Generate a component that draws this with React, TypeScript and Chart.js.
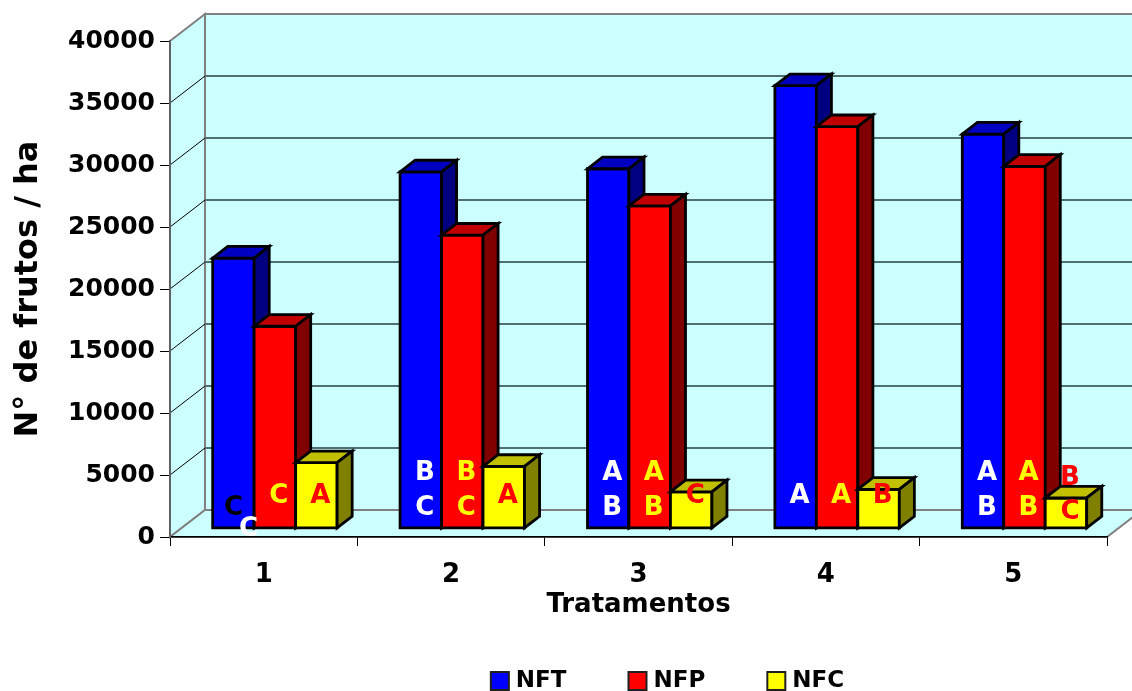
import React, { useEffect, useRef } from "react";
import { Chart, registerables } from "chart.js";

Chart.register(...registerables);

// ---------- data ----------
const categories = ["1", "2", "3", "4", "5"];
const seriesNames = ["NFT", "NFP", "NFC"];
const nftValues = [21800, 28750, 29000, 35700, 31800];
const nfpValues = [16300, 23650, 26000, 32400, 29200];
const nfcValues = [5300, 5000, 2950, 3150, 2450];
const yMin = 0;
const yMax = 40000;
const yStep = 5000;
const xTitle = "Tratamentos";
const yTitle = "N° de frutos / ha";

// significance letters per series, per category
const nftLetters = [["C"], ["B", "C"], ["A", "B"], ["A"], ["A", "B"]];
const nfpLetters = [["C"], ["B", "C"], ["A", "B"], ["A"], ["A", "B"]];
const nfcLetters = [["A"], ["A"], ["C"], ["B"], ["B", "C"]];

// ---------- styles ----------
const FONT = '"DejaVu Sans", "Liberation Sans", Arial, sans-serif';
const frontColors = ["#0000FF", "#FF0000", "#FFFF00"];
const topColors = ["#0000C0", "#C00000", "#C0C000"];
const sideColors = ["#000080", "#800000", "#808000"];
const letterColors = ["#FFFFFF", "#FFFF00", "#FF0000"];
const WALL = "#CCFFFF";
const WALL_EDGE = "#808080";
const GRID = "#507070";

const DEPTH_X = 35;
const DEPTH_Y = 27;
const BAR_START = 0.32;
const BAR_DEPTH = 0.43;

const allLetters = [nftLetters, nfpLetters, nfcLetters];

const threeDPlugin = {
  id: "threeD",
  beforeDraw(chart: any) {
    const { ctx, chartArea: a, scales } = chart;
    const ys = scales.y;
    const L = a.left, R = a.right, T = a.top, B = a.bottom;
    ctx.save();
    ctx.fillStyle = WALL;
    ctx.strokeStyle = WALL_EDGE;
    ctx.lineWidth = 2;
    // back wall
    ctx.beginPath();
    ctx.rect(L + DEPTH_X, T - DEPTH_Y, R - L, B - T);
    ctx.fill();
    ctx.stroke();
    // side wall
    ctx.beginPath();
    ctx.moveTo(L, T);
    ctx.lineTo(L + DEPTH_X, T - DEPTH_Y);
    ctx.lineTo(L + DEPTH_X, B - DEPTH_Y);
    ctx.lineTo(L, B);
    ctx.closePath();
    ctx.fill();
    ctx.stroke();
    // floor
    ctx.beginPath();
    ctx.moveTo(L, B);
    ctx.lineTo(L + DEPTH_X, B - DEPTH_Y);
    ctx.lineTo(R + DEPTH_X, B - DEPTH_Y);
    ctx.lineTo(R, B);
    ctx.closePath();
    ctx.fill();
    ctx.stroke();
    // grid lines
    for (let v = yMin + yStep; v < yMax; v += yStep) {
      const py = ys.getPixelForValue(v);
      ctx.strokeStyle = GRID;
      ctx.lineWidth = 2;
      ctx.beginPath();
      ctx.moveTo(L + DEPTH_X, py - DEPTH_Y);
      ctx.lineTo(R + DEPTH_X, py - DEPTH_Y);
      ctx.stroke();
      ctx.strokeStyle = "#000000";
      ctx.lineWidth = 1;
      ctx.beginPath();
      ctx.moveTo(L, py);
      ctx.lineTo(L + DEPTH_X, py - DEPTH_Y);
      ctx.stroke();
    }
    ctx.restore();
  },
  beforeDatasetsDraw(chart: any) {
    const { ctx } = chart;
    const ox = BAR_START * DEPTH_X, oy = -BAR_START * DEPTH_Y;
    const dx = BAR_DEPTH * DEPTH_X, dy = -BAR_DEPTH * DEPTH_Y;
    ctx.save();
    ctx.lineWidth = 2.8;
    ctx.strokeStyle = "#000000";
    ctx.lineJoin = "miter";
    const nCat = chart.data.labels.length;
    const nSer = chart.data.datasets.length;
    const faces: any[] = [];
    for (let c = 0; c < nCat; c++) {
      for (let s = 0; s < nSer; s++) {
        const el = chart.getDatasetMeta(s).data[c];
        const p = el.getProps(["x", "y", "base", "width"], true);
        const x0 = p.x - p.width / 2 + ox;
        const x1 = p.x + p.width / 2 + ox;
        const yt = p.y + oy;
        const yb = p.base + oy;
        // front
        ctx.fillStyle = frontColors[s];
        ctx.beginPath();
        ctx.rect(x0, yt, x1 - x0, yb - yt);
        ctx.fill();
        ctx.stroke();
        // top
        ctx.fillStyle = topColors[s];
        ctx.beginPath();
        ctx.moveTo(x0, yt);
        ctx.lineTo(x0 + dx, yt + dy);
        ctx.lineTo(x1 + dx, yt + dy);
        ctx.lineTo(x1, yt);
        ctx.closePath();
        ctx.fill();
        ctx.stroke();
        // side
        ctx.fillStyle = sideColors[s];
        ctx.beginPath();
        ctx.moveTo(x1, yt);
        ctx.lineTo(x1 + dx, yt + dy);
        ctx.lineTo(x1 + dx, yb + dy);
        ctx.lineTo(x1, yb);
        ctx.closePath();
        ctx.fill();
        ctx.stroke();
        faces.push({ s, c, cx: (x0 + x1) / 2, yb });
      }
    }
    // letters
    ctx.font = "bold 26px " + FONT;
    ctx.textAlign = "center";
    ctx.textBaseline = "middle";
    faces.forEach(({ s, c, cx, yb }) => {
      const letters = allLetters[s][c];
      const x = cx + 4;
      const isSmall = s === 2;
      if (letters.length === 1) {
        if (s === 0 && c === 0) {
          // dark letter with offset light copy
          ctx.fillStyle = "#000000";
          ctx.fillText(letters[0], cx, yb - 20);
          ctx.fillStyle = letterColors[s];
          ctx.fillText(letters[0], cx + 15, yb + 1);
        } else {
          ctx.fillStyle = letterColors[s];
          ctx.fillText(letters[0], x, yb - 32);
        }
      } else {
        ctx.fillStyle = letterColors[s];
        ctx.fillText(letters[0], x, yb - (isSmall ? 50 : 55));
        ctx.fillText(letters[1], x, yb - (isSmall ? 16 : 20));
      }
    });
    ctx.restore();
    return false;
  },
  afterDraw(chart: any) {
    const { ctx, chartArea: a } = chart;
    const items = chart.data.datasets.map((ds: any) => ({ label: ds.label, color: ds.backgroundColor }));
    ctx.save();
    ctx.font = "bold 23px " + FONT;
    const box = 18, gapText = 7, gapItem = 62;
    const widths = items.map((it: any) => box + gapText + ctx.measureText(it.label).width);
    const total = widths.reduce((s: number, w: number) => s + w, 0) + gapItem * (items.length - 1);
    let x = (a.left + a.right) / 2 + 29 - total / 2;
    const cy = 681;
    items.forEach((it: any, i: number) => {
      ctx.fillStyle = it.color;
      ctx.strokeStyle = "#202020";
      ctx.lineWidth = 2;
      ctx.fillRect(x, cy - box / 2, box, box);
      ctx.strokeRect(x, cy - box / 2, box, box);
      ctx.fillStyle = "#000000";
      ctx.textAlign = "left";
      ctx.textBaseline = "middle";
      ctx.fillText(it.label, x + box + gapText, cy);
      x += widths[i] + gapItem;
    });
    ctx.restore();
  },
};

export default function App() {
  const canvasRef = useRef<HTMLCanvasElement | null>(null);

  useEffect(() => {
    const canvas = canvasRef.current;
    if (!canvas) return;
    const chart = new Chart(canvas, {
      type: "bar",
      data: {
        labels: categories,
        datasets: [
          { label: seriesNames[0], data: nftValues, backgroundColor: frontColors[0] },
          { label: seriesNames[1], data: nfpValues, backgroundColor: frontColors[1] },
          { label: seriesNames[2], data: nfcValues, backgroundColor: frontColors[2] },
        ],
      },
      options: {
        animation: false,
        responsive: true,
        maintainAspectRatio: false,
        layout: { padding: { top: 41, right: 25, left: 0, bottom: 0 } },
        datasets: { bar: { barPercentage: 1, categoryPercentage: 0.664 } },
        plugins: {
          legend: { display: false },
          tooltip: { enabled: false },
        },
        scales: {
          x: {
            offset: true,
            grid: { drawOnChartArea: false, drawTicks: true, tickLength: 9, color: "#000000", lineWidth: 1, offset: true },
            border: { display: true, color: "#000000", width: 1.5 },
            ticks: { font: { family: FONT, size: 26, weight: "bold" }, color: "#000000", padding: 14, maxRotation: 0 },
            title: {
              display: true,
              text: xTitle,
              font: { family: FONT, size: 26, weight: "bold" },
              color: "#000000",
              padding: { top: 0, bottom: 70 },
            },
            afterFit: (scale: any) => {
              scale.height = 154;
            },
          },
          y: {
            min: yMin,
            max: yMax,
            ticks: {
              stepSize: yStep,
              font: { family: FONT, size: 25, weight: "bold" },
              color: "#000000",
              padding: 5,
              callback: (v: any) => String(v),
            },
            grid: { drawOnChartArea: false, drawTicks: true, tickLength: 10, color: "#000000", lineWidth: 1 },
            border: { display: true, color: "#606060", width: 2 },
            title: {
              display: true,
              text: yTitle,
              font: { family: FONT, size: 32, weight: "bold" },
              color: "#000000",
              padding: { top: 9, bottom: 0 },
            },
            afterFit: (scale: any) => {
              scale.width = 170;
            },
          },
        },
      },
      plugins: [threeDPlugin],
    } as any);
    return () => chart.destroy();
  }, []);

  return (
    <div style={{ position: "fixed", left: 0, top: 0, width: 1132, height: 691, background: "#FFFFFF" }}>
      <canvas ref={canvasRef} />
    </div>
  );
}
